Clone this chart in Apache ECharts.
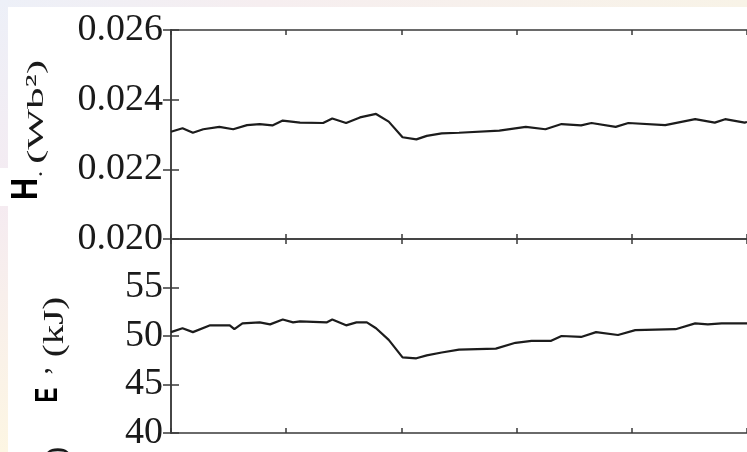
<!DOCTYPE html>
<html>
<head>
<meta charset="utf-8">
<script src="https://cdn.jsdelivr.net/npm/echarts@6/dist/echarts.min.js"></script>
<style>
  html, body { margin: 0; padding: 0; background: #fff; }
  #main { width: 747px; height: 452px; }
</style>
</head>
<body>
<div id="main"></div>
<script>
// time axis (no labels shown in the crop)
const xTicks = [0, 100, 200, 300, 400, 500];

// upper panel: H (Wb^2)
const hTime = [0, 10, 19, 28, 42, 54, 66, 77, 88, 97, 112, 132, 140, 152, 164, 178, 189, 201, 213, 222, 235, 250,
  285, 308, 325, 339, 356, 365, 386, 397, 429, 455, 472, 481, 498, 500];
const hValues = [0.02308, 0.02318, 0.02305, 0.02315, 0.02322, 0.02315, 0.02327, 0.02330, 0.02326, 0.02340, 0.02334,
  0.02333, 0.02346, 0.02333, 0.02349, 0.02359, 0.02337, 0.02292, 0.02286, 0.02296, 0.02303, 0.02305,
  0.02311, 0.02322, 0.02315, 0.02330, 0.02326, 0.02333, 0.02322, 0.02333, 0.02327, 0.02344, 0.02334, 0.02344, 0.02334, 0.02336];
const hTicks = [0.020, 0.022, 0.024, 0.026];

// lower panel: E (kJ)
const eTime = [0, 10, 19, 34, 51, 55, 62, 77, 86, 97, 106, 112, 135, 140, 152, 161, 170, 178, 189, 201, 213, 222, 235, 250,
  282, 299, 313, 330, 339, 356, 369, 388, 403, 438, 455, 466, 478, 498, 500];
const eValues = [50.4, 50.8, 50.4, 51.1, 51.1, 50.7, 51.3, 51.4, 51.2, 51.7, 51.4, 51.5, 51.4, 51.7, 51.1, 51.4, 51.4, 50.8,
  49.6, 47.8, 47.7, 48.0, 48.3, 48.6, 48.7, 49.3, 49.5, 49.5, 50.0, 49.9, 50.4, 50.1, 50.6, 50.7, 51.3, 51.2, 51.3, 51.3, 51.3];
const eTicks = [40, 45, 50, 55, 60];

const chart = echarts.init(document.getElementById('main'));

const axisColor = '#3a3a3a';
const lineStyle = { color: axisColor, width: 1.5 };
const serif = '"Liberation Serif", "DejaVu Serif", serif';

function xAxis(gridIndex, position) {
  return {
    type: 'value', gridIndex: gridIndex, position: position,
    min: xTicks[0], max: xTicks[xTicks.length - 1], interval: xTicks[1] - xTicks[0],
    axisLine: { show: true, lineStyle: lineStyle },
    axisTick: { show: true, inside: true, length: 5, lineStyle: lineStyle },
    axisLabel: { show: false },
    splitLine: { show: false }
  };
}

function yAxis(gridIndex, position, ticks, withLabels, fmt) {
  return {
    type: 'value', gridIndex: gridIndex, position: position,
    min: ticks[0], max: ticks[ticks.length - 1], interval: ticks[1] - ticks[0],
    axisLine: { show: true, lineStyle: lineStyle },
    axisTick: { show: true, inside: true, length: 8, lineStyle: lineStyle },
    axisLabel: {
      show: withLabels, margin: 8, color: '#1a1a1a',
      fontFamily: serif, fontSize: 38,
      formatter: fmt
    },
    splitLine: { show: false }
  };
}

function rotText(text, x, y, size, opts) {
  return Object.assign({
    type: 'text', x: x, y: y, rotation: Math.PI / 2,
    style: {
      text: text, fontFamily: serif, fontSize: size, fill: '#1a1a1a',
      align: 'center', verticalAlign: 'middle'
    }
  }, opts || {});
}

const option = {
  backgroundColor: '#ffffff',
  animation: false,
  grid: [
    { left: 171, top: 30, width: 578, height: 209 },
    { left: 171, top: 239, width: 578, height: 207 }
  ],
  xAxis: [xAxis(0, 'bottom'), xAxis(0, 'top'), xAxis(1, 'bottom'), xAxis(1, 'top')],
  yAxis: [
    yAxis(0, 'left', hTicks, true, v => v.toFixed(3)),
    yAxis(0, 'right', hTicks, false),
    yAxis(1, 'left', eTicks, true, v => (v >= 60 ? '' : String(Math.round(v)))),
    yAxis(1, 'right', eTicks, false)
  ],
  series: [
    {
      type: 'line', xAxisIndex: 0, yAxisIndex: 0, showSymbol: false,
      lineStyle: { color: '#1c1c1c', width: 2.2 },
      data: hTime.map((t, i) => [t, hValues[i]])
    },
    {
      type: 'line', xAxisIndex: 2, yAxisIndex: 2, showSymbol: false,
      lineStyle: { color: '#1c1c1c', width: 2.2 },
      data: eTime.map((t, i) => [t, eValues[i]])
    }
  ],
  graphic: [
    {
      type: 'rect', shape: { x: 0, y: 0, width: 747, height: 7 }, silent: true,
      style: { fill: new echarts.graphic.LinearGradient(0, 0, 1, 0, [
        { offset: 0, color: '#edf0f8' }, { offset: 0.35, color: '#f6eef0' }, { offset: 1, color: '#f8f3e7' }]) }
    },
    {
      type: 'rect', shape: { x: 0, y: 0, width: 8, height: 452 }, silent: true,
      style: { fill: new echarts.graphic.LinearGradient(0, 0, 0, 1, [
        { offset: 0, color: '#edf0f8' }, { offset: 0.45, color: '#f5ebf1' }, { offset: 1, color: '#fdf6e3' }]) }
    },
    { type: 'rect', shape: { x: 0, y: 168, width: 45, height: 38 }, style: { fill: '#ffffff' } },
    rotText('(Wb²)', 37, 112, 24, { scaleX: 1.8 }),
    rotText('·', 42, 174, 24),
    rotText('H', 27, 189, 36, { scaleX: 0.85, style: {
      text: 'H', fontFamily: '"Liberation Sans", Arial, sans-serif', fontWeight: 'bold', fontSize: 36,
      fill: '#000', align: 'center', verticalAlign: 'middle' } }),
    rotText('(kJ)', 55, 327, 30, { scaleX: 1.3 }),
    rotText('’', 56, 371, 30),
    rotText('E', 48, 395, 32, { scaleX: 0.7, style: {
      text: 'E', fontFamily: '"Liberation Sans", Arial, sans-serif', fontWeight: 'bold', fontSize: 32,
      fill: '#000', align: 'center', verticalAlign: 'middle' } }),
    rotText(')', 57, 452, 30)
  ]
};

chart.setOption(option);
</script>
</body>
</html>
